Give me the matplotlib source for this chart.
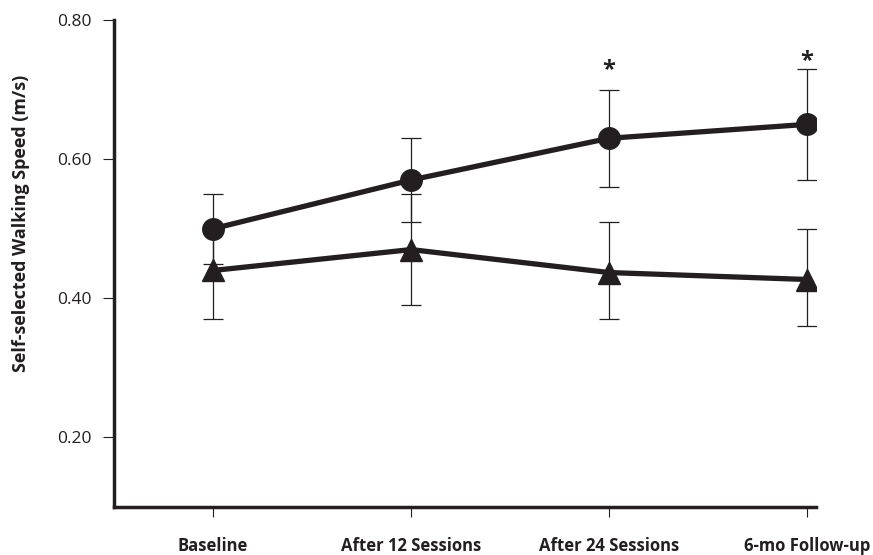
import matplotlib
matplotlib.use("Agg")
import matplotlib.pyplot as plt
import numpy as np

# ---- data ----
categories = ["Baseline", "After 12 Sessions", "After 24 Sessions", "6-mo Follow-up"]
circle_mean = [0.50, 0.57, 0.63, 0.65]
circle_upper = [0.55, 0.63, 0.70, 0.73]
circle_lower = [0.45, 0.51, 0.56, 0.57]
triangle_mean = [0.44, 0.47, 0.437, 0.427]
triangle_upper = [0.50, 0.55, 0.51, 0.50]
triangle_lower = [0.37, 0.39, 0.37, 0.36]
significance = ["", "", "*", "*"]
sig_y = [None, None, 0.719, 0.732]
yticks = [0.20, 0.40, 0.60, 0.80]
ytick_labels = ["0.20", "0.40", "0.60", "0.80"]
ylabel = "Self-selected Walking Speed (m/s)"

ink = "#231f20"
plt.rcParams['font.family'] = ['Open Sans', 'DejaVu Sans']

fig = plt.figure(figsize=(8.73, 5.55), dpi=100)
ax = fig.add_axes([114/873, 1 - 507/555, (816 - 114)/873, (507 - 20)/555])

x = np.arange(len(categories))

def draw(mean, upper, lower, marker):
    mean = np.asarray(mean)
    yerr = np.vstack([mean - np.asarray(lower), np.asarray(upper) - mean])
    ax.errorbar(x, mean, yerr=yerr, fmt='none', ecolor=ink, elinewidth=0.9,
                capsize=7.5, capthick=0.9, zorder=2)
    ax.plot(x, mean, color=ink, lw=3.8, marker=marker, markersize=15.5,
            markerfacecolor=ink, markeredgecolor=ink, zorder=3)

draw(triangle_mean, triangle_upper, triangle_lower, '^')
draw(circle_mean, circle_upper, circle_lower, 'o')

for xi, s, yv in zip(x, significance, sig_y):
    if s:
        ax.text(xi, yv, s, ha='center', va='baseline', fontsize=17,
                fontweight='bold', color=ink)

ax.set_xlim(-0.5, 3.045)
ax.set_ylim(0.10, 0.80)
ax.set_yticks(yticks)
ax.set_yticklabels(ytick_labels)
ax.set_xticks(x)
ax.set_xticklabels(categories, fontweight='bold', fontsize=12)

for side in ['top', 'right']:
    ax.spines[side].set_visible(False)
for side in ['left', 'bottom']:
    ax.spines[side].set_linewidth(2.5)
    ax.spines[side].set_color(ink)

ax.tick_params(axis='y', length=8, width=0.8, color=ink, labelsize=12.5,
               labelcolor=ink, pad=8)
ax.tick_params(axis='x', length=7.5, width=0.8, color=ink, labelcolor=ink, pad=14)

fig.text(21/873, 1 - 223/555, ylabel, rotation=90, ha='center', va='center',
         fontsize=12.9, fontweight='bold', color=ink)

fig.savefig("out.png", dpi=100)
